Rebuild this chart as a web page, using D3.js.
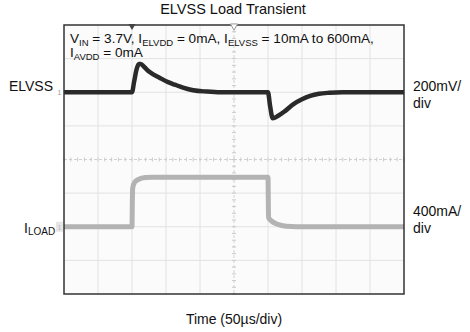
<!DOCTYPE html>
<html>
<head>
<meta charset="utf-8">
<script src="https://cdn.jsdelivr.net/npm/d3@7"></script>
<style>
  html, body { margin: 0; padding: 0; background: #fff; }
  text { font-family: "Liberation Sans", Arial, sans-serif; fill: #111; }
</style>
</head>
<body>
<svg id="chart" width="470" height="332"></svg>
<script>
// ---- data (time in µs, ELVSS deviation in mV, load current in mA) ----
const elvssTime = [0, 100, 103, 107, 110, 113, 118, 126, 141, 153, 163, 175, 190, 210, 230, 300, 303, 307, 315, 325, 337, 350, 362, 375, 390, 410, 500];
const elvssMv   = [0, 0,   60,  140, 168, 168, 150, 120, 85,  60,  45,  28,  12,  4,   0,   0,   -80, -155, -140, -112, -72, -42, -22, -9, -3, 0, 0];
const iloadTime = [0, 100, 100.5, 101, 104, 110, 120, 130, 299.5, 300, 300.8, 305, 312, 320, 335, 350, 500];
const iloadMa   = [10, 10, 300,   470, 540, 575, 595, 600, 600,   600, 120,   80,  45,  25,  12,  10,  10];

const xTicksDiv = [0,1,2,3,4,5,6,7,8,9,10];
const yTicksDiv = [-4,-3,-2,-1,0,1,2,3,4];
const elvssOffsetDiv = 2, elvssPerDiv = 200;   // mV/div
const iloadOffsetDiv = -2, iloadPerDiv = 400;  // mA/div
const iloadBase = 10;

const labels = {
  title: "ELVSS Load Transient",
  xLabel: "Time (50µs/div)",
  ch1: "ELVSS",
  ch1Scale: ["200mV/", "div"],
  ch2Scale: ["400mA/", "div"]
};

// ---- layout ----
const svg = d3.select("#chart");
const L = 64, R = 404, T = 25, B = 294;
const x = d3.scaleLinear().domain([0, 500]).range([L, R]);
const xd = d3.scaleLinear().domain([0, 10]).range([L, R]);
const yd = d3.scaleLinear().domain([-4, 4]).range([B, T]);

// plot background
svg.append("rect").attr("x", L).attr("y", T).attr("width", R - L).attr("height", B - T)
  .attr("fill", "#fbfbfb");

// grid
const grid = svg.append("g");
grid.selectAll("line.v").data(xTicksDiv.slice(1, -1)).join("line")
  .attr("x1", d => xd(d)).attr("x2", d => xd(d)).attr("y1", T).attr("y2", B)
  .attr("stroke", d => d === 5 ? "#d2d2d2" : "#e2e2e2").attr("stroke-width", 1)
  .attr("stroke-dasharray", d => d === 5 ? "3,2" : null);
grid.selectAll("line.h").data(yTicksDiv.slice(1, -1)).join("line")
  .attr("x1", L).attr("x2", R).attr("y1", d => yd(d)).attr("y2", d => yd(d))
  .attr("stroke", d => d === 0 ? "#d2d2d2" : "#e2e2e2").attr("stroke-width", 1)
  .attr("stroke-dasharray", d => d === 0 ? "3,2" : null);

// minor ticks on center lines
const minorX = d3.range(0, 50.01, 1).map(i => i / 5);
grid.selectAll("line.mx").data(minorX).join("line")
  .attr("x1", d => xd(d)).attr("x2", d => xd(d))
  .attr("y1", yd(0) - 2).attr("y2", yd(0) + 2).attr("stroke", "#cccccc");
const minorY = d3.range(-20, 20.01, 1).map(i => i / 5);
grid.selectAll("line.my").data(minorY).join("line")
  .attr("y1", d => yd(d)).attr("y2", d => yd(d))
  .attr("x1", xd(5) - 2).attr("x2", xd(5) + 2).attr("stroke", "#cccccc");

// traces
const elvssPts = elvssTime.map((t, i) => [t, elvssOffsetDiv + elvssMv[i] / elvssPerDiv]);
const iloadPts = iloadTime.map((t, i) => [t, iloadOffsetDiv + (iloadMa[i] - iloadBase) / iloadPerDiv]);
const line = d3.line().x(d => x(d[0])).y(d => yd(d[1])).curve(d3.curveMonotoneX);

svg.append("path").attr("d", line(iloadPts)).attr("fill", "none")
  .attr("stroke", "#b3b3b3").attr("stroke-width", 5).attr("stroke-linejoin", "round");
svg.append("path").attr("d", line(elvssPts)).attr("fill", "none")
  .attr("stroke", "#2a2a2a").attr("stroke-width", 4.5).attr("stroke-linejoin", "round");

// border
svg.append("rect").attr("x", L).attr("y", T).attr("width", R - L).attr("height", B - T)
  .attr("fill", "none").attr("stroke", "#333").attr("stroke-width", 1.5);

// trigger markers at top
svg.append("path").attr("d", d3.symbol().type(d3.symbolTriangle).size(22)())
  .attr("transform", `translate(${x(100)},${T + 1}) rotate(180)`).attr("fill", "#444");
svg.append("path").attr("d", d3.symbol().type(d3.symbolTriangle).size(22)())
  .attr("transform", `translate(${x(250)},${T + 1}) rotate(180)`).attr("fill", "#fff").attr("stroke", "#999");

// channel ground markers on left
[[elvssOffsetDiv, "#999", "#fff"], [iloadOffsetDiv, "#bbb", "#e6e6e6"]].forEach(([d, c, bg]) => {
  svg.append("rect").attr("x", L - 8).attr("y", yd(d) - 5).attr("width", 7).attr("height", 10).attr("fill", bg);
  svg.append("text").attr("x", L - 4.5).attr("y", yd(d) + 3).attr("text-anchor", "middle")
    .attr("font-size", 7).style("fill", c).text("1");
});

// title
svg.append("text").attr("x", 233).attr("y", 14).attr("text-anchor", "middle")
  .attr("font-size", 14.5).text(labels.title);

// annotation
const ann = svg.append("text").attr("x", 70).attr("y", 43).attr("font-size", 13.6);
const sub = (el, s) => el.append("tspan").attr("font-size", 9.5).attr("dy", 3).text(s);
const norm = (el, s) => el.append("tspan").attr("dy", -3).text(s);
ann.append("tspan").text("V"); sub(ann, "IN"); norm(ann, " = 3.7V, I");
sub(ann, "ELVDD"); norm(ann, " = 0mA, I"); sub(ann, "ELVSS"); norm(ann, " = 10mA to 600mA,");
const ann2 = svg.append("text").attr("x", 70).attr("y", 57).attr("font-size", 13.6);
ann2.append("tspan").text("I"); sub(ann2, "AVDD"); norm(ann2, " = 0mA");

// channel labels left
svg.append("text").attr("x", 53).attr("y", 91).attr("text-anchor", "end")
  .attr("font-size", 14).text(labels.ch1);
const il = svg.append("text").attr("x", 24).attr("y", 233).attr("font-size", 14);
il.append("tspan").text("I");
il.append("tspan").attr("font-size", 10).attr("dy", 1.5).text("LOAD");

// scale labels right
labels.ch1Scale.forEach((s, i) => svg.append("text").attr("x", 413).attr("y", 91 + i * 17)
  .attr("font-size", 14).text(s));
labels.ch2Scale.forEach((s, i) => svg.append("text").attr("x", 413).attr("y", 216 + i * 17)
  .attr("font-size", 14).text(s));

// x label
svg.append("text").attr("x", 234).attr("y", 324).attr("text-anchor", "middle")
  .attr("font-size", 14).text(labels.xLabel);
</script>
</body>
</html>
